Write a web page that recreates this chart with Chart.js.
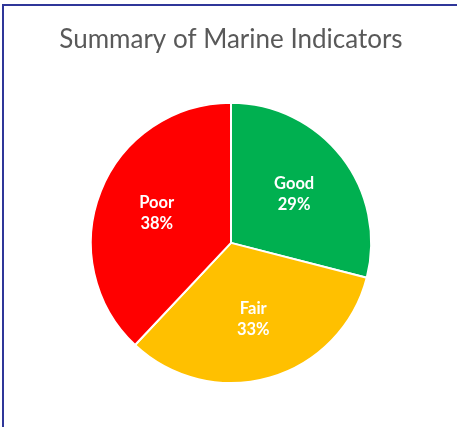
<!DOCTYPE html>
<html>
<head>
<meta charset="utf-8">
<script src="https://cdn.jsdelivr.net/npm/chart.js@4/dist/chart.umd.min.js"></script>
<style>
  html, body { margin: 0; padding: 0; background: #ffffff; }
  #frame {
    position: absolute; left: 2px; top: 4px; width: 454px; height: 423px;
    border-left: 2px solid #2f3699; border-top: 2px solid #2f3699;
    border-right: 1px solid #d9d9d9;
  }
  #wrap { position: absolute; left: 0; top: 0; width: 457px; height: 427px; }
</style>
</head>
<body>
<div id="frame"></div>
<div id="wrap"><canvas id="pieChart"></canvas></div>
<script>
const categories = ['Good', 'Fair', 'Poor'];
const percents = [29, 33, 38];
const sliceColors = ['#00b050', '#ffc000', '#ff0000'];

// draw "Name / NN%" in each slice, a bit past half the radius
const sliceLabels = {
    id: 'sliceLabels',
    afterDatasetsDraw(chart) {
        const ctx = chart.ctx;
        const meta = chart.getDatasetMeta(0);
        ctx.save();
        ctx.fillStyle = '#ffffff';
        ctx.font = 'bold 16.5px Lato';
        ctx.textAlign = 'center';
        ctx.textBaseline = 'middle';
        meta.data.forEach((arc, i) => {
            const mid = (arc.startAngle + arc.endAngle) / 2;
            const r = arc.outerRadius * 0.57;
            const x = arc.x + Math.cos(mid) * r;
            const y = arc.y + Math.sin(mid) * r;
            ctx.fillText(categories[i], x, y - 10.5);
            ctx.fillText(percents[i] + '%', x, y + 10.5);
        });
        ctx.restore();
    }
};

const piechart = document.getElementById('pieChart');
new Chart(piechart, {
    type: 'pie',
    plugins: [sliceLabels],
    data: {
        labels: categories,
        datasets: [{
            data: percents,
            backgroundColor: sliceColors,
            borderColor: '#ffffff',
            borderWidth: 2
        }]
    },
    options: {
        responsive: true,
        maintainAspectRatio: false,
        animation: false,
        layout: { padding: { left: 20, right: 15, top: 0, bottom: 43 } },
        plugins: {
            legend: { display: false },
            tooltip: { enabled: false },
            title: {
                display: true,
                text: 'Summary of Marine Indicators',
                color: '#595959',
                font: { family: 'Lato', size: 26, weight: 'normal' },
                padding: { top: 24.5, bottom: 46 }
            }
        }
    }
});
</script>
</body>
</html>
